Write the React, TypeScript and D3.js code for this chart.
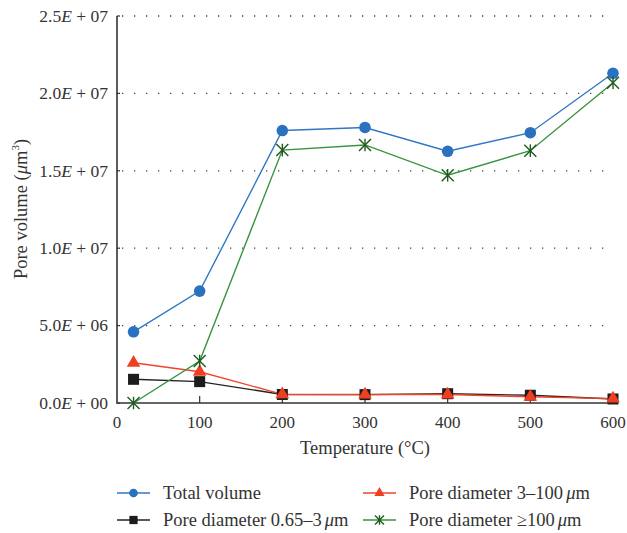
import React from "react";
import * as d3 from "d3";

const temps = [20, 100, 200, 300, 400, 500, 600];
const totalVolume = [4.6e6, 7.23e6, 17.6e6, 17.8e6, 16.26e6, 17.46e6, 21.3e6];
const pore065to3 = [1.53e6, 1.38e6, 0.55e6, 0.54e6, 0.6e6, 0.5e6, 0.26e6];
const pore3to100 = [2.6e6, 2.02e6, 0.56e6, 0.55e6, 0.55e6, 0.4e6, 0.28e6];
const pore100plus = [0, 2.71e6, 16.34e6, 16.67e6, 14.71e6, 16.3e6, 20.69e6];
const xTicks = [0, 100, 200, 300, 400, 500, 600];
const yTicks = [0, 5e6, 1e7, 1.5e7, 2e7, 2.5e7];
const yTickLabels = ["0.0", "5.0", "1.0", "1.5", "2.0", "2.5"];
const yTickExp = ["00", "06", "07", "07", "07", "07"];

const FONT = "'Liberation Serif', 'DejaVu Serif', serif";

const x = d3.scaleLinear().domain([0, 600]).range([117, 613]);
const y = d3.scaleLinear().domain([0, 2.5e7]).range([403, 16]);

type Series = { name: string; values: number[]; line: string; fill: string; marker: string };
const series: Series[] = [
  { name: "Total volume", values: totalVolume, line: "#2f78c4", fill: "#2a72c0", marker: "circle" },
  { name: "Pore diameter 0.65-3", values: pore065to3, line: "#222", fill: "#1c1c1c", marker: "square" },
  { name: "Pore diameter 3-100", values: pore3to100, line: "#f0452a", fill: "#ee3f22", marker: "triangle" },
  { name: "Pore diameter >=100", values: pore100plus, line: "#37933f", fill: "#1e5a1e", marker: "star" },
];

function Marker({ type, cx, cy, fill, scale = 1 }: { type: string; cx: number; cy: number; fill: string; scale?: number }) {
  if (type === "circle") return <circle cx={cx} cy={cy} r={5.8 * scale} fill={fill} />;
  if (type === "square") {
    const s = 11 * scale;
    return <rect x={cx - s / 2} y={cy - s / 2} width={s} height={s} fill={fill} />;
  }
  if (type === "triangle") {
    const p = d3.symbol().type(d3.symbolTriangle).size(80 * scale * scale)();
    return <path d={p || ""} transform={`translate(${cx},${cy})`} fill={fill} />;
  }
  const r = 6 * scale;
  return (
    <g stroke={fill} strokeWidth={1.4} transform={`translate(${cx},${cy})`}>
      <line x1={-r} y1={-r} x2={r} y2={r} />
      <line x1={-r} y1={r} x2={r} y2={-r} />
      <line x1={0} y1={-r * 1.05} x2={0} y2={r * 1.05} />
    </g>
  );
}

export default function App() {
  const line = d3
    .line<number>()
    .x((_, i) => x(temps[i]))
    .y((d) => y(d));

  const legendItems = [
    { s: series[0], lx: 117, ly: 493, label: <tspan>Total volume</tspan> },
    { s: series[2], lx: 363, ly: 493, label: <><tspan>Pore diameter 3–100</tspan><tspan fontStyle="italic" dx="3">μ</tspan><tspan>m</tspan></> },
    { s: series[1], lx: 117, ly: 520, label: <><tspan>Pore diameter 0.65–3</tspan><tspan fontStyle="italic" dx="3">μ</tspan><tspan>m</tspan></> },
    { s: series[3], lx: 363, ly: 520, label: <><tspan>Pore diameter ≥100</tspan><tspan fontStyle="italic" dx="3">μ</tspan><tspan>m</tspan></> },
  ];

  return (
    <svg width={627} height={533} style={{ position: "absolute", left: 0, top: 0, background: "#fff" }} fontFamily={FONT}>
      {/* grid */}
      {yTicks.slice(1).map((t) => (
        <line key={t} x1={122} x2={613} y1={y(t)} y2={y(t)} stroke="#444" strokeWidth={1.3} strokeDasharray="1.3,10.7" />
      ))}
      {/* axes */}
      <line x1={117} x2={117} y1={16} y2={404} stroke="#333" strokeWidth={1.6} />
      <line x1={116} x2={614} y1={403} y2={403} stroke="#666" strokeWidth={2.2} />
      {yTicks.map((t) => (
        <line key={t} x1={117} x2={120} y1={y(t)} y2={y(t)} stroke="#333" strokeWidth={1.2} />
      ))}
      {xTicks.slice(1).map((t) => (
        <line key={t} x1={x(t)} x2={x(t)} y1={403} y2={396} stroke="#333" strokeWidth={1.2} />
      ))}
      {/* y tick labels */}
      {yTicks.map((t, i) => (
        <text key={t} x={108} y={y(t)} dy="0.33em" textAnchor="end" fontSize={17.5} fill="#333">
          <tspan>{yTickLabels[i]}</tspan>
          <tspan fontStyle="italic">E</tspan>
          <tspan> + {yTickExp[i]}</tspan>
        </text>
      ))}
      {/* x tick labels */}
      {xTicks.map((t) => (
        <text key={t} x={x(t)} y={428} textAnchor="middle" fontSize={17} fill="#333">
          {t}
        </text>
      ))}
      <text x={365} y={454} textAnchor="middle" fontSize={18.5} fill="#333">
        Temperature (°C)
      </text>
      <text transform="translate(27,209) rotate(-90)" textAnchor="middle" fontSize={18.5} fill="#333">
        <tspan>Pore volume (</tspan>
        <tspan fontStyle="italic">μ</tspan>
        <tspan>m</tspan>
        <tspan fontSize={11} dy="-8">3</tspan>
        <tspan dy="8">)</tspan>
      </text>
      {/* series */}
      {series.map((s) => (
        <path key={s.name} d={line(s.values) || ""} fill="none" stroke={s.line} strokeWidth={1.4} />
      ))}
      {series.map((s) =>
        s.values.map((v, i) => <Marker key={s.name + i} type={s.marker} cx={x(temps[i])} cy={y(v)} fill={s.fill} />)
      )}
      {/* legend */}
      {legendItems.map((it, k) => (
        <g key={k}>
          <line x1={it.lx} x2={it.lx + 33} y1={it.ly} y2={it.ly} stroke={it.s.line} strokeWidth={1.4} />
          <Marker type={it.s.marker} cx={it.lx + 16.5} cy={it.ly} fill={it.s.fill} scale={0.75} />
          <text x={it.lx + 46} y={it.ly} dy="0.33em" fontSize={18.5} fill="#333">
            {it.label}
          </text>
        </g>
      ))}
    </svg>
  );
}
